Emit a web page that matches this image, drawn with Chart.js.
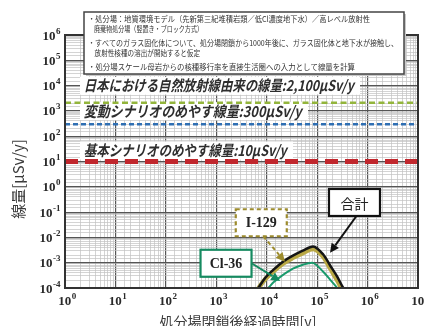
<!DOCTYPE html>
<html>
<head>
<meta charset="utf-8">
<script src="https://cdn.jsdelivr.net/npm/chart.js@4.4.0/dist/chart.umd.min.js"></script>
<style>
  html, body { margin: 0; padding: 0; background: #fff; overflow: hidden; }
</style>
</head>
<body>
<canvas id="doseChart" width="425" height="326"></canvas>
<script>
// 経過時間[y] と 線量[μSv/y]
const totalYears = [5000, 6800, 9300, 13500, 21000, 33000, 52000, 83000, 132000, 182000, 250000, 330000, 420000];
const totalDose  = [4e-5, 1e-4, 2.5e-4, 5.2e-4, 1.1e-3, 1.9e-3, 3.0e-3, 4.4e-3, 2.1e-3, 7.6e-4, 2.8e-4, 1e-4, 4.8e-5];
const i129Years  = [5000, 6800, 9300, 13500, 21000, 33000, 52000, 83000, 132000, 182000, 250000, 330000, 420000];
const i129Dose   = [3.8e-5, 9.5e-5, 2.2e-4, 4.5e-4, 9.2e-4, 1.55e-3, 2.4e-3, 3.5e-3, 1.7e-3, 5.8e-4, 2e-4, 7e-5, 3.2e-5];
const cl36Years  = [9000, 10700, 14000, 18600, 33000, 52000, 79000, 132000, 182000, 250000, 316000];
const cl36Dose   = [7e-5, 1e-4, 1.75e-4, 2.75e-4, 5.8e-4, 8.3e-4, 1e-3, 4.4e-4, 2.1e-4, 1e-4, 4.8e-5];

// めやす線量
const refLabels = ['日本における自然放射線由来の線量:2,100μSv/y', '変動シナリオのめやす線量:300μSv/y', '基本シナリオのめやす線量:10μSv/y'];
const refDose = [2100, 300, 10];
const xRange = [1, 1e7];
const yRange = [1e-4, 1e6];

// 目盛り（10のべき）
const xTickExp = [0, 1, 2, 3, 4, 5, 6, 7];
const yTickExp = [-4, -3, -2, -1, 0, 1, 2, 3, 4, 5, 6];

const noteLines = [
  '・処分場：地質環境モデル（先新第三紀堆積岩類／低Cl濃度地下水）／高レベル放射性',
  '　廃棄物処分場（竪置き・ブロック方式）',
  '・すべてのガラス固化体について、処分場閉鎖から1000年後に、ガラス固化体と地下水が接触し、',
  '　放射性核種の溶出が開始すると仮定',
  '・処分場スケール母岩からの核種移行率を直接生活圏への入力として線量を計算'
];

const calloutText = ['合計', 'I-129', 'Cl-36'];

function toPoints(xs, ys) {
  return xs.map((x, i) => ({ x: x, y: ys[i] }));
}

function isDecade(v) {
  const l = Math.log10(v);
  return Math.abs(l - Math.round(l)) < 1e-6;
}

const refStyle = [
  { color: '#93b53c', width: 2.5, dash: [6, 3.5], labelDy: -17, maxW: 270 },
  { color: '#2f6fb3', width: 2.5, dash: [5, 3],   labelDy: -13, maxW: 218 },
  { color: '#c1272d', width: 5,   dash: [13, 7],  labelDy: -11, maxW: 203 }
];

const refSets = refDose.map((d, i) => ({
  data: toPoints(xRange, [d, d]),
  borderColor: refStyle[i].color,
  borderWidth: refStyle[i].width,
  borderDash: refStyle[i].dash,
  pointRadius: 0,
  clip: 0
}));

function drawPow(ctx, e, px, py, align) {
  const base = '10';
  const ex = e < 0 ? '-' + Math.abs(e) : String(e);
  ctx.font = 'bold 13px "Liberation Serif"';
  const wb = ctx.measureText(base).width;
  ctx.font = 'bold 9px "Liberation Serif"';
  const we = ctx.measureText(ex).width;
  let sx = align === 'right' ? px - wb - we : px - (wb + we) / 2;
  ctx.textAlign = 'left';
  ctx.textBaseline = 'alphabetic';
  ctx.font = 'bold 13px "Liberation Serif"';
  ctx.fillText(base, sx, py + 4.5);
  ctx.font = 'bold 9px "Liberation Serif"';
  ctx.fillText(ex, sx + wb + 0.5, py - 1.5);
}

function arrow(ctx, x1, y1, x2, y2, color, dash) {
  const ang = Math.atan2(y2 - y1, x2 - x1);
  const hl = 9, hw = 4.5;
  const bx = x2 - hl * Math.cos(ang), by = y2 - hl * Math.sin(ang);
  ctx.save();
  ctx.strokeStyle = color;
  ctx.fillStyle = color;
  ctx.lineWidth = 2;
  ctx.setLineDash(dash);
  ctx.beginPath();
  ctx.moveTo(x1, y1);
  ctx.lineTo(bx, by);
  ctx.stroke();
  ctx.setLineDash([]);
  ctx.beginPath();
  ctx.moveTo(x2, y2);
  ctx.lineTo(bx + hw * Math.sin(ang), by - hw * Math.cos(ang));
  ctx.lineTo(bx - hw * Math.sin(ang), by + hw * Math.cos(ang));
  ctx.closePath();
  ctx.fill();
  ctx.restore();
}

const overlay = {
  id: 'overlay',
  beforeDatasetsDraw(chart) {
    const { ctx, scales: { x, y } } = chart;
    refDose.forEach((d, i) => {
      const ly = y.getPixelForValue(d) + refStyle[i].labelDy;
      const lx = 85;
      ctx.save();
      ctx.fillStyle = '#fff';
      ctx.fillRect(lx - 5, ly - 9, refStyle[i].maxW + 10, 18);
      ctx.fillStyle = '#2e2e2e';
      ctx.font = 'bold 15px "Noto Sans CJK JP"';
      ctx.textAlign = 'left';
      ctx.textBaseline = 'middle';
      // 斜体風に傾ける
      ctx.translate(lx, ly);
      ctx.transform(1, 0, -0.22, 1, 0, 0);
      ctx.fillText(refLabels[i], 0, 0, refStyle[i].maxW);
      ctx.restore();
    });
  },
  afterDatasetsDraw(chart) {
    const { ctx, chartArea: a, scales: { x, y } } = chart;
    ctx.save();

    // 枠
    ctx.strokeStyle = '#333';
    ctx.lineWidth = 2;
    ctx.strokeRect(a.left, a.top, a.right - a.left, a.bottom - a.top);

    // 吹き出し
    const boxes = [
      { cx: 5.5e5, cy: 0.24,  tx: 1.8e5,  ty: 2.5e-3, color: '#111',    dash: [],     from: 'bottom', font: '14px "Noto Sans CJK JP"' },
      { cx: 7.8e3, cy: 0.038, tx: 2.3e4,  ty: 1.1e-3, color: '#9d8c2e', dash: [4, 3], from: 'bottom', font: 'bold 14px "Liberation Serif"' },
      { cx: 1.56e3, cy: 9.5e-4, tx: 1.85e4, ty: 1.9e-4, color: '#168a60', dash: [],   from: 'right',  font: 'bold 14px "Liberation Serif"' }
    ];
    boxes.forEach((b, i) => {
      const cx = x.getPixelForValue(b.cx), cy = y.getPixelForValue(b.cy);
      const w = 51, h = 27;
      ctx.fillStyle = '#fff';
      ctx.fillRect(cx - w / 2, cy - h / 2, w, h);
      ctx.strokeStyle = b.color;
      ctx.lineWidth = 2.2;
      ctx.setLineDash(b.dash);
      ctx.strokeRect(cx - w / 2, cy - h / 2, w, h);
      ctx.setLineDash([]);
      ctx.fillStyle = '#222';
      ctx.font = b.font;
      ctx.textAlign = 'center';
      ctx.textBaseline = 'middle';
      ctx.fillText(calloutText[i], cx, cy + 1);
      const sx = b.from === 'right' ? cx + w / 2 : cx + 2;
      const sy = b.from === 'right' ? cy : cy + h / 2;
      arrow(ctx, sx, sy, x.getPixelForValue(b.tx), y.getPixelForValue(b.ty), b.color, b.dash);
    });

    // 目盛りラベル
    ctx.fillStyle = '#2a2a2a';
    yTickExp.forEach(e => drawPow(ctx, e, 60, y.getPixelForValue(Math.pow(10, e)), 'right'));
    xTickExp.forEach(e => drawPow(ctx, e, x.getPixelForValue(Math.pow(10, e)) + 2, a.bottom + 12, 'center'));

    // 軸タイトル
    ctx.fillStyle = '#3a3a3a';
    ctx.font = '15px "Noto Sans CJK JP"';
    ctx.textAlign = 'center';
    ctx.textBaseline = 'middle';
    ctx.save();
    ctx.translate(18, 179);
    ctx.rotate(-Math.PI / 2);
    ctx.fillText('線量[μSv/y]', 0, 0);
    ctx.restore();
    ctx.font = '14px "Noto Sans CJK JP"';
    ctx.textBaseline = 'top';
    ctx.fillText('処分場閉鎖後経過時間[y]', 238, 315);

    // 前提条件の枠
    const nb = { l: 84, t: 12, r: 404, b: 74 };
    ctx.fillStyle = '#c8c8c8';
    ctx.fillRect(nb.l + 2, nb.t + 2, nb.r - nb.l, nb.b - nb.t);
    ctx.fillStyle = '#fff';
    ctx.fillRect(nb.l, nb.t, nb.r - nb.l, nb.b - nb.t);
    ctx.strokeStyle = '#444';
    ctx.lineWidth = 1.5;
    ctx.strokeRect(nb.l, nb.t, nb.r - nb.l, nb.b - nb.t);
    const noteY = [19, 29, 43, 53, 67];
    const noteW = [282, 115, 310, 112, 267];
    ctx.fillStyle = '#333';
    ctx.font = '8px "Noto Sans CJK JP"';
    ctx.textAlign = 'left';
    ctx.textBaseline = 'middle';
    noteLines.forEach((t, i) => ctx.fillText(t, 88, noteY[i], noteW[i]));

    ctx.restore();
  }
};

const gridColor = c => (c.tick && isDecade(c.tick.value)) ? '#555' : '#c2c2c2';
const gridWidth = c => (c.tick && isDecade(c.tick.value)) ? 1.2 : 0.7;

new Chart(document.getElementById('doseChart'), {
  type: 'line',
  data: {
    datasets: [
      { label: '合計', data: toPoints(totalYears, totalDose), borderColor: '#151515', borderWidth: 2.5,
        pointRadius: 0, cubicInterpolationMode: 'monotone', clip: 0 },
      { label: 'I-129', data: toPoints(i129Years, i129Dose), borderColor: '#b9a845', borderWidth: 4.5,
        pointRadius: 0, cubicInterpolationMode: 'monotone', clip: 0 },
      { label: 'Cl-36', data: toPoints(cl36Years, cl36Dose), borderColor: '#1a9a6c', borderWidth: 2,
        pointRadius: 0, cubicInterpolationMode: 'monotone', clip: 0 }
    ].concat(refSets)
  },
  options: {
    responsive: false,
    animation: false,
    events: [],
    layout: { padding: { left: 0, right: 7, top: 35, bottom: 0 } },
    plugins: { legend: { display: false }, tooltip: { enabled: false } },
    scales: {
      x: {
        type: 'logarithmic', min: xRange[0], max: xRange[1],
        ticks: { display: false, autoSkip: false },
        grid: { color: gridColor, lineWidth: gridWidth, drawTicks: false },
        border: { display: false },
        afterFit(s) { s.height = 38; s.paddingLeft = 0; s.paddingRight = 0; }
      },
      y: {
        type: 'logarithmic', min: yRange[0], max: yRange[1],
        ticks: { display: false, autoSkip: false },
        grid: { color: gridColor, lineWidth: gridWidth, drawTicks: false },
        border: { display: false },
        afterFit(s) { s.width = 65; s.paddingTop = 0; s.paddingBottom = 0; }
      }
    }
  },
  plugins: [overlay]
});
</script>
</body>
</html>
